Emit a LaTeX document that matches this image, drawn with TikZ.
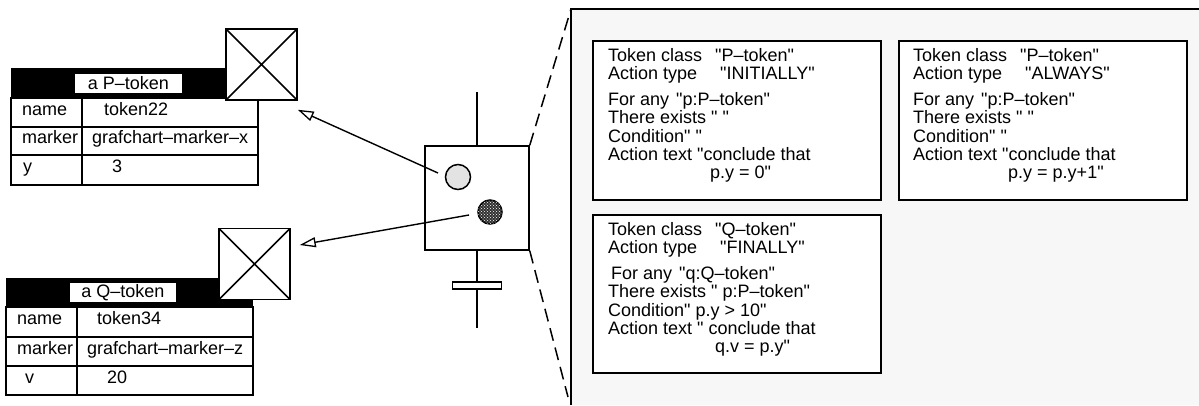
\documentclass[tikz,border=0pt]{standalone}
\usepackage{fontspec}
\setmainfont{Liberation Sans}[Ligatures=TeXOff]
\usetikzlibrary{arrows.meta,patterns}
\begin{document}
\begin{tikzpicture}[x=1pt,y=-1pt,
  lw/.style={line width=1.5pt},
  tx/.style={font=\fontsize{18}{18.2}\selectfont, inner sep=0pt},
  cell/.style={tx, anchor=mid west},
  xbox/.style={draw, lw, fill=white, minimum width=71pt, minimum height=71pt, inner sep=0pt,
    path picture={\draw[lw] (path picture bounding box.south west) -- (path picture bounding box.north east)
      (path picture bounding box.north west) -- (path picture bounding box.south east);}},
  titlebox/.style={tx, fill=white, minimum height=19pt},
  rulebox/.style={draw, lw, fill=white, minimum width=288pt, inner sep=0pt},
  rtext/.style={tx, align=left, anchor=north west},
  arr/.style={line width=1.4pt, -{Triangle[open,length=16pt,width=10pt,line width=1.3pt]}},
  dsh/.style={lw, dash pattern=on 13pt off 7pt},
]
\useasboundingbox (0,0) rectangle (1199,405);

% panel
\fill[gray!6] (571,9) rectangle (1199,405);
\draw[lw] (1199,9) -- (571,9) -- (571,405);
\coordinate (pc) at (571,9);
\coordinate (pb) at (568,397);

% rule boxes
\node[rulebox, minimum height=159pt] (b1) at (737,120.5) {};
\node[rulebox, minimum height=159pt] (b2) at (1043,120.5) {};
\node[rulebox, minimum height=158pt] (b3) at (737,294) {};

\node[rtext] (t1) at (608,48) {\makebox[107pt][l]{Token class}"P–token"\\
\makebox[112pt][l]{Action type}"INITIALLY"\\[8pt]
\makebox[68pt][l]{For any}"p:P–token"\\
There exists " "\\
Condition" "\\
Action text "conclude that\\
\hspace*{102pt}p.y = 0"};

\node[rtext] (t2) at (913,48) {\makebox[107pt][l]{Token class}"P–token"\\
\makebox[112pt][l]{Action type}"ALWAYS"\\[8pt]
\makebox[68pt][l]{For any}"p:P–token"\\
There exists " "\\
Condition" "\\
Action text "conclude that\\
\hspace*{95pt}p.y = p.y+1"};

\node[rtext] (t3) at (608,222) {\makebox[107pt][l]{Token class}"Q–token"\\
\makebox[112pt][l]{Action type}"FINALLY"\\[8pt]
\hspace*{3pt}\makebox[68pt][l]{For any}"q:Q–token"\\
There exists " p:P–token"\\
Condition" p.y > 10"\\
Action text " conclude that\\
\hspace*{107pt}q.v = p.y"};

% P-token table
\fill[black] (11,68) rectangle (258,98);
\node[titlebox, minimum width=107pt] (ptitle) at (128.5,83.5) {a P–token};
\draw[lw] (11,98) rectangle (258,185) (11,127) -- (258,127) (11,155) -- (258,155) (82,98) -- (82,185);
\node[cell] (pn1) at (22,112.5) {name};
\node[cell] (pv1) at (104,112.5) {token22};
\node[cell] (pn2) at (22,141) {marker};
\node[cell] (pv2) at (92,141) {grafchart–marker–x};
\node[cell] (pn3) at (23,170) {y};
\node[cell] (pv3) at (112,170) {3};

% Q-token table
\fill[black] (6,278) rectangle (253,307);
\node[titlebox, minimum width=106pt] (qtitle) at (123,292.5) {a Q–token};
\draw[lw] (6,307) rectangle (253,395) (6,337) -- (253,337) (6,366) -- (253,366) (77,307) -- (77,395);
\node[cell] (qn1) at (17,322) {name};
\node[cell] (qv1) at (97,322) {token34};
\node[cell] (qn2) at (17,351.5) {marker};
\node[cell] (qv2) at (87,351.5) {grafchart–marker–z};
\node[cell] (qn3) at (25,380.5) {v};
\node[cell] (qv3) at (107,380.5) {20};

% X boxes
\node[xbox] (xb1) at (261.5,64.5) {};
\node[xbox] (xb2) at (254.5,264) {};

% step and transition
\node[draw, lw, fill=white, minimum size=104pt, inner sep=0pt] (step) at (477,198) {};
\coordinate (st) at (477,92);
\coordinate (sb) at (477,328);
\node[draw, lw, fill=white, minimum width=49pt, minimum height=7pt, inner sep=0pt] (bar) at (477,285.5) {};
\draw[lw] (st) -- (step.north);
\draw[lw] (step.south) -- (bar.north);
\draw[lw] (bar.south) -- (sb);

\node[circle, draw, lw, fill=gray!22, minimum size=25pt, inner sep=0pt] (lc) at (458,177) {};
\node[circle, draw, lw, fill=black!80, postaction={pattern=crosshatch dots, pattern color=white},
  minimum size=24pt, inner sep=0pt] (dc) at (490,212) {};

\draw[arr] ([xshift=-20pt,yshift=4pt]lc.center) -- ([yshift=-9pt]xb1.south east);
\draw[arr] ([xshift=-21pt,yshift=-3pt]dc.center) -- ([xshift=9pt,yshift=19pt]xb2.east);

\draw[dsh] (step.north east) -- (pc);
\draw[dsh] (step.south east) -- (pb);
\end{tikzpicture}
\end{document}
